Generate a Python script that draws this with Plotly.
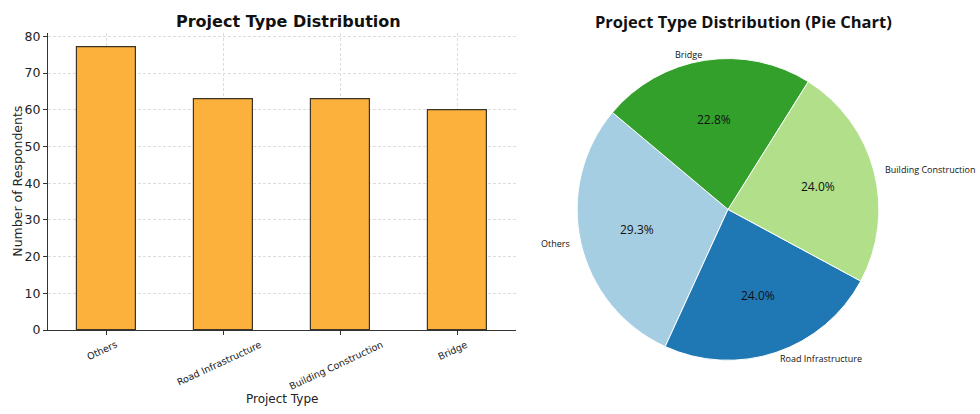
import math
import plotly.graph_objects as go

# Survey results: number of respondents per project type
categories = ["Others", "Road Infrastructure", "Building Construction", "Bridge"]
respondents = [77, 63, 63, 60]
y_ticks = [0, 10, 20, 30, 40, 50, 60, 70, 80]

bar_color = "#fbb13c"
bar_edge = "#3b3427"
pie_colors = ["#a6cee3", "#1f78b4", "#b2df8a", "#33a02c"]

W, H = 980, 414
FONT = "DejaVu Sans"
PIE_FONT = "Open Sans"

# Bar panel domain (paper units)
bar_x = [48 / W, 516 / W]
bar_y = [79 / H, 384 / H]

# Pie panel geometry (pixels -> paper)
pie_cx_px, pie_cy_px, pie_r_px = 728, 211, 155
pcx = pie_cx_px / W
pcy = (H - pie_cy_px) / H
pie_dom_x = [pcx - pie_r_px / W, pcx + pie_r_px / W]
pie_dom_y = [pcy - pie_r_px / H, pcy + pie_r_px / H]
start_angle = 140  # degrees, counter-clockwise from 3 o'clock
label_distance = 1.04
pct_distance = 0.6

total = sum(respondents)
first_span = 360.0 * respondents[0] / total
# Plotly's counter-clockwise pies end the first slice at `rotation`
# (measured clockwise from 12 o'clock), so shift by the first slice's span.
pie_rotation = 90 - start_angle - first_span

fig = go.Figure()

fig.add_trace(go.Bar(
    x=categories,
    y=respondents,
    width=0.5,
    marker=dict(color=bar_color, line=dict(color=bar_edge, width=1.2)),
    xaxis="x", yaxis="y",
    showlegend=False,
))

fig.add_trace(go.Pie(
    labels=categories,
    values=respondents,
    sort=False,
    direction="counterclockwise",
    rotation=pie_rotation,
    marker=dict(colors=pie_colors, line=dict(color="white", width=1)),
    textinfo="none",
    hoverinfo="label+percent",
    domain=dict(x=pie_dom_x, y=pie_dom_y),
    showlegend=False,
))

annotations = []

# Titles
annotations.append(dict(
    text="<b>Project Type Distribution</b>", x=288 / W, y=1 - 18 / H,
    xref="paper", yref="paper", showarrow=False, xanchor="center", yanchor="middle",
    font=dict(family=FONT, size=16, color="#111")))
annotations.append(dict(
    text="<b>Project Type Distribution (Pie Chart)</b>", x=743 / W, y=1 - 18 / H,
    xref="paper", yref="paper", showarrow=False, xanchor="center", yanchor="middle",
    font=dict(family=PIE_FONT, size=16.5, color="#111")))

# Rotated category labels centred under each bar
for cat in categories:
    annotations.append(dict(
        text=cat, x=cat, y=bar_y[0], xref="x", yref="paper", yshift=-6, xshift=-5,
        showarrow=False, xanchor="center", yanchor="top", textangle=-25,
        font=dict(family=FONT, size=9.5, color="#222")))

# Pie labels and percentages, placed from each slice's mid angle
theta = start_angle
for cat, val in zip(categories, respondents):
    span = 360.0 * val / total
    mid = math.radians(theta + span / 2)
    theta += span
    cx, sy = math.cos(mid), math.sin(mid)
    # name label just outside the rim
    lx = label_distance * pie_r_px * cx
    ly = label_distance * pie_r_px * sy
    annotations.append(dict(
        text=cat, x=pcx + lx / W, y=pcy + ly / H, xref="paper", yref="paper",
        showarrow=False, xanchor="left" if lx > 0 else "right", yanchor="middle",
        borderpad=0, font=dict(family=PIE_FONT, size=9, color="#111")))
    # percentage inside the wedge
    px_ = pct_distance * pie_r_px * cx
    py_ = pct_distance * pie_r_px * sy
    annotations.append(dict(
        text=f"{100.0 * val / total:.1f}%", x=pcx + px_ / W, y=pcy + py_ / H,
        xref="paper", yref="paper", showarrow=False, xanchor="center", yanchor="middle",
        font=dict(family=PIE_FONT, size=12, color="#111")))

# Axis titles
annotations.append(dict(
    text="Project Type", x=(bar_x[0] + bar_x[1]) / 2, y=1 - 406 / H,
    xref="paper", yref="paper", showarrow=False, xanchor="center", yanchor="middle",
    font=dict(family=FONT, size=12, color="#222")))
annotations.append(dict(
    text="Number of Respondents", x=18 / W, y=(bar_y[0] + bar_y[1]) / 2,
    xref="paper", yref="paper", showarrow=False, xanchor="center", yanchor="middle",
    textangle=-90, font=dict(family=FONT, size=12.5, color="#222")))

fig.update_layout(
    width=W, height=H,
    margin=dict(l=0, r=0, t=0, b=0),
    paper_bgcolor="white", plot_bgcolor="white",
    font=dict(family=FONT, color="#222"),
    bargap=0,
    xaxis=dict(
        domain=bar_x, anchor="y", type="category", range=[-0.5, 3.5],
        showticklabels=False, ticks="outside", ticklen=4, tickcolor="#333",
        showline=True, linecolor="#333", linewidth=1,
        showgrid=True, gridcolor="#dcdcdc", griddash="3px,2px", gridwidth=0.8,
        zeroline=False, fixedrange=True,
    ),
    yaxis=dict(
        domain=bar_y, anchor="x", range=[0, 80.85],
        tickvals=y_ticks, ticks="outside", ticklen=4, tickcolor="#333",
        tickfont=dict(family=FONT, size=12.5, color="#222"),
        showline=True, linecolor="#333", linewidth=1,
        showgrid=True, gridcolor="#dcdcdc", griddash="3px,2px", gridwidth=0.8,
        zeroline=False, fixedrange=True,
    ),
    annotations=annotations,
)

fig.write_html("out.html")
